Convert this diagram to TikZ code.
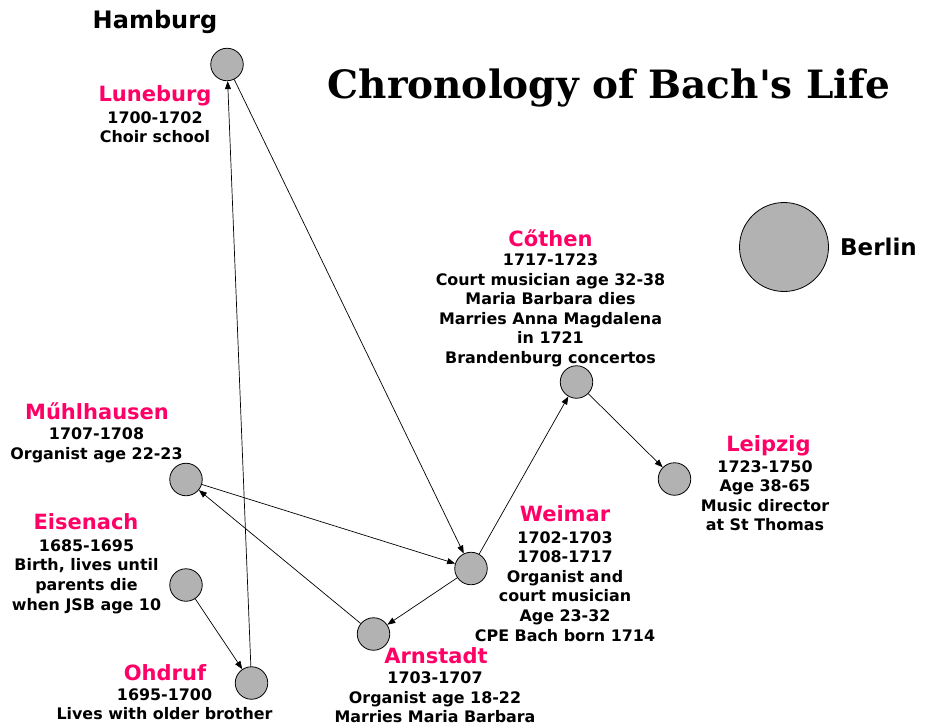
\documentclass[tikz,border=0pt]{standalone}
\usepackage{fontspec}
\setmainfont{DejaVu Sans}
\newfontfamily\titlefont{DejaVu Serif}
\usetikzlibrary{arrows.meta}
\definecolor{placered}{RGB}{255,0,102}
\definecolor{townfill}{RGB}{178,178,178}
\begin{document}
\begin{tikzpicture}[x=1pt, y=-1pt, font=\bfseries,
    town/.style={circle, draw, fill=townfill, minimum size=32.5pt, inner sep=0pt, line width=0.8pt},
    place/.style={text=placered, font=\bfseries\fontsize{21}{25}\selectfont, anchor=base, inner sep=0pt},
    info/.style={align=center, font=\bfseries\fontsize{15.9}{19.6}\selectfont, anchor=north, inner sep=0pt},
    move/.style={-{Triangle[length=8pt,width=6pt]}, line width=0.7pt}]
    \useasboundingbox (0, 0) rectangle (928, 726);
    % title
    \node[anchor=base, inner sep=0pt, font=\titlefont\bfseries\fontsize{39}{44}\selectfont] (title) at (609, 98.5) {Chronology of Bach's Life};
    % towns
    \node[town] (luneburg) at (227, 64.5) {};
    \node[town] (cothen) at (576.5, 382) {};
    \node[town] (muhlhausen) at (186, 479.5) {};
    \node[town] (eisenach) at (186, 585) {};
    \node[town] (ohdruf) at (251.5, 683) {};
    \node[town] (arnstadt) at (373.5, 634) {};
    \node[town] (weimar) at (471, 568.5) {};
    \node[town] (leipzig) at (674.5, 479) {};
    \node[town, minimum size=89pt] (berlin) at (784, 247) {};
    % labels
    \node[anchor=base, inner sep=0pt, font=\bfseries\fontsize{24}{28}\selectfont] (hamburg-name) at (155, 28.3) {Hamburg};
    \node[anchor=base west, inner sep=0pt, font=\bfseries\fontsize{23}{27}\selectfont] (berlin-name) at (840, 255) {Berlin};
    \node[place] (luneburg-name) at (155, 101) {Luneburg};
    \node[info] (luneburg-text) at (155, 111) {1700-1702\\Choir school};
    \node[place] (cothen-name) at (550.5, 246) {Cőthen};
    \node[info] (cothen-text) at (550.5, 253.5) {1717-1723\\Court musician age 32-38\\Maria Barbara dies\\Marries Anna Magdalena\\in 1721\\Brandenburg concertos};
    \node[place] (muhlhausen-name) at (97, 419) {Műhlhausen};
    \node[info] (muhlhausen-text) at (96.5, 427.7) {1707-1708\\Organist age 22-23};
    \node[place] (eisenach-name) at (86, 529.3) {Eisenach};
    \node[info] (eisenach-text) at (86.5, 539.3) {1685-1695\\Birth, lives until\\parents die\\when JSB age 10};
    \node[place] (ohdruf-name) at (165, 680) {Ohdruf};
    \node[info] (ohdruf-text) at (164.5, 688.3) {1695-1700\\Lives with older brother};
    \node[place] (arnstadt-name) at (436, 663.3) {Arnstadt};
    \node[info] (arnstadt-text) at (435, 671.7) {1703-1707\\Organist age 18-22\\Marries Maria Barbara};
    \node[place] (weimar-name) at (565, 521.7) {Weimar};
    \node[info] (weimar-text) at (565, 531) {1702-1703\\1708-1717\\Organist and\\court musician\\Age 23-32\\CPE Bach born 1714};
    \node[place] (leipzig-name) at (768.5, 451.7) {Leipzig};
    \node[info] (leipzig-text) at (765, 460) {1723-1750\\Age 38-65\\Music director\\at St Thomas};
    % moves
    \draw[move] (eisenach) -- (ohdruf);
    \draw[move] (ohdruf) -- (luneburg);
    \draw[move] (luneburg) -- (weimar);
    \draw[move] (weimar) -- (arnstadt);
    \draw[move] (arnstadt) -- (muhlhausen);
    \draw[move] (muhlhausen) -- (weimar);
    \draw[move] (weimar) -- (cothen);
    \draw[move] (cothen) -- (leipzig);
\end{tikzpicture}
\end{document}
